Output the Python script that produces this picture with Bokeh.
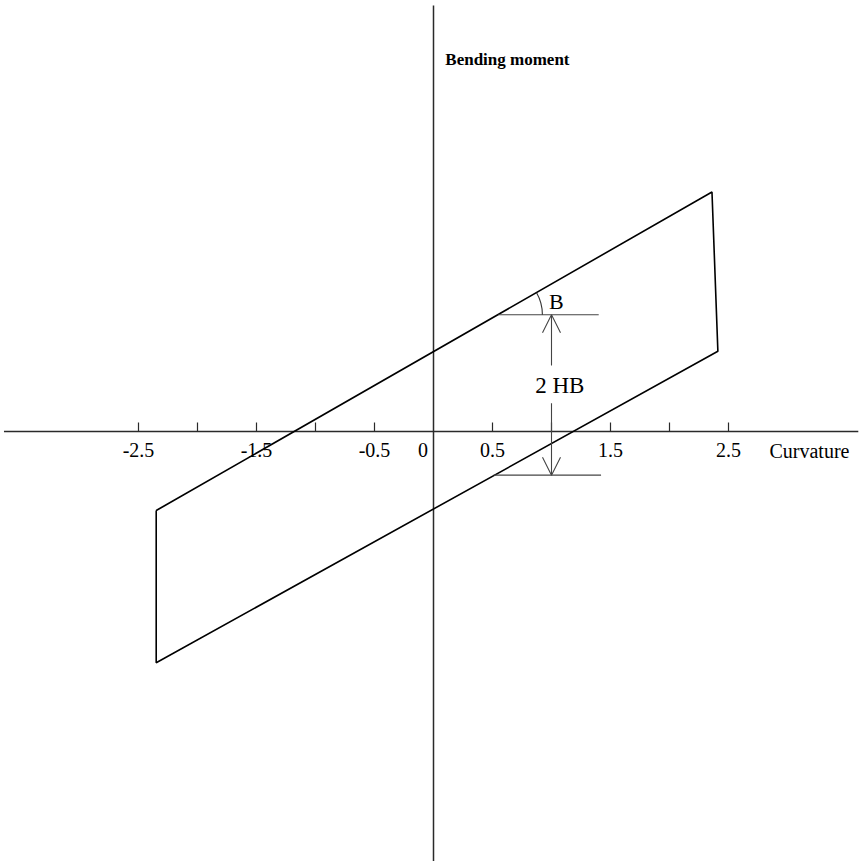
import math

from bokeh.core.properties import value
from bokeh.embed import file_html
from bokeh.models import Arrow, OpenHead, Range1d
from bokeh.plotting import figure
from bokeh.resources import INLINE

# Moment-curvature hysteresis loop (corners in order, closed)
loop_curvature = [-2.35, 2.36, 2.41, -2.35, -2.35]
loop_moment = [-0.67, 2.03, 0.68, -1.96, -0.67]

# Curvature axis ticks and their labels
tick_values = [-2.5, -2.0, -1.5, -1.0, -0.5, 0.5, 1.0, 1.5, 2.0, 2.5]
tick_labels = ["-2.5", "", "-1.5", "", "-0.5", "0.5", "", "1.5", "", "2.5"]

# Hardening construction: reference levels and the 2 HB span
upper_level = 0.99
lower_level = -0.37
upper_start = 0.55
lower_start = 0.51
level_end = [1.40, 1.42]
span_curvature = 1.0

SERIF = value("Liberation Serif")
PX = 118.0  # pixels per unit on both axes

W, H = 867, 863
ox, oy = 433, 431
p = figure(
    width=W, height=H,
    x_range=Range1d(-ox / PX, (W - ox) / PX),
    y_range=Range1d(-(H - oy) / PX, oy / PX),
    output_backend="svg", toolbar_location=None,
    min_border=0, min_border_left=0, min_border_right=0,
    min_border_top=0, min_border_bottom=0,
)
p.axis.visible = False
p.grid.visible = False
p.outline_line_color = None
p.background_fill_color = "white"
p.border_fill_color = "white"

# Axes through the origin
p.segment(x0=[-3.64, 0], y0=[0, -3.64], x1=[3.60, 0], y1=[0, 3.61],
          line_color="#2a2a2a", line_width=1.5)

# Tick marks pointing up from the curvature axis
p.segment(x0=tick_values, y0=[0] * len(tick_values),
          x1=tick_values, y1=[9 / PX] * len(tick_values),
          line_color="#2a2a2a", line_width=1.2)

label_y = -18 / PX
p.text(x=tick_values, y=[label_y] * len(tick_values), text=tick_labels,
       text_font=SERIF, text_font_size="20px", text_align="center",
       text_baseline="alphabetic", text_color="black")
p.text(x=[-0.09], y=[label_y], text=["0"],
       text_font=SERIF, text_font_size="20px", text_align="center",
       text_baseline="alphabetic", text_color="black")

# Axis titles
p.text(x=[2.847], y=[-0.165], text=["Curvature"],
       text_font=SERIF, text_font_size="20px", text_align="left",
       text_baseline="alphabetic", text_color="black")
p.text(x=[0.10], y=[3.15], text=["Bending moment"],
       text_font=SERIF, text_font_size="17px", text_font_style="bold",
       text_align="left", text_baseline="alphabetic", text_color="black")

# Hysteresis loop
p.line(loop_curvature, loop_moment, line_color="black", line_width=1.6)

# Reference levels
p.segment(x0=[upper_start, lower_start], y0=[upper_level, lower_level],
          x1=level_end, y1=[upper_level, lower_level],
          line_color="#444444", line_width=1.1)

# Hardening angle B
slope = (loop_moment[1] - loop_moment[0]) / (loop_curvature[1] - loop_curvature[0])
p.arc(x=[upper_start], y=[upper_level], radius=44 / PX,
      start_angle=0, end_angle=math.atan(slope),
      line_color="#333333", line_width=1.1)
p.text(x=[1.04], y=[1.105], text=["B"],
       text_font=SERIF, text_font_size="22px", text_align="center",
       text_baseline="alphabetic", text_color="black")

# 2 HB dimension arrows
for y_from, y_to in [(0.56, upper_level), (0.24, lower_level)]:
    p.add_layout(Arrow(
        x_start=span_curvature, y_start=y_from,
        x_end=span_curvature, y_end=y_to,
        end=OpenHead(size=18, line_color="#444444", line_width=1.1),
        line_color="#444444", line_width=1.1,
    ))
p.text(x=[1.07], y=[0.39], text=["2 HB"],
       text_font=SERIF, text_font_size="23px", text_align="center",
       text_baseline="alphabetic", text_color="black")

open("out.html", "w").write(file_html(p, INLINE))
